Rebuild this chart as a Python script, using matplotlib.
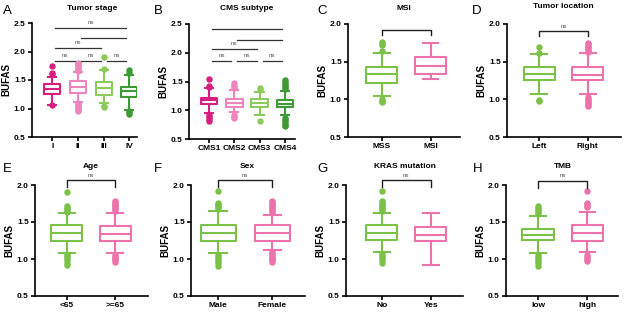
import matplotlib
matplotlib.use("Agg")
import matplotlib.pyplot as plt

plt.rcParams['font.family'] = ['Liberation Sans', 'DejaVu Sans']

W, H = 625, 315

# colours
MAG = '#D61F7E'
LPINK = '#EE85BC'
LGREEN = '#8CCB57'
DGREEN = '#3E9A34'
GREEN = '#7BC047'
PINK = '#EB72AA'

# ---- panel A: tumor stage ----
A_labels = ['I', 'II', 'III', 'IV']
A_q1 = [1.25, 1.27, 1.24, 1.21]
A_med = [1.34, 1.375, 1.355, 1.30]
A_q3 = [1.43, 1.49, 1.465, 1.375]
A_wlo = [1.07, 1.12, 1.09, 0.97]
A_whi = [1.55, 1.64, 1.68, 1.58]
A_fl = [[1.75, 1.63, 1.60, 1.06],
        [1.66, 1.68, 1.70, 1.72, 1.74, 1.76, 1.78, 1.80, 0.96, 0.98, 1.00, 1.02, 1.04, 1.06, 1.08, 1.10],
        [1.91, 1.70, 1.03, 1.05],
        [1.67, 1.62, 0.91, 0.93, 0.95]]

# ---- panel B: CMS subtype ----
B_labels = ['CMS1', 'CMS2', 'CMS3', 'CMS4']
B_q1 = [1.11, 1.06, 1.05, 1.05]
B_med = [1.175, 1.13, 1.12, 1.11]
B_q3 = [1.22, 1.20, 1.20, 1.18]
B_wlo = [0.95, 0.97, 0.91, 0.91]
B_whi = [1.39, 1.355, 1.32, 1.34]
B_fl = [[1.55, 1.43, 1.40, 0.91, 0.88, 0.85, 0.82],
        [1.47, 1.44, 1.41, 1.38, 0.91, 0.89, 0.86],
        [1.38, 1.36, 0.82],
        [1.52, 1.49, 1.46, 1.43, 1.40, 1.37, 0.87, 0.84, 0.81, 0.78, 0.75, 0.73]]

# ---- two-group panels ----
C_labels = ['MSS', 'MSI']
C_q1 = [1.22, 1.335]
C_med = [1.335, 1.445]
C_q3 = [1.43, 1.565]
C_wlo = [1.045, 1.275]
C_whi = [1.62, 1.75]
C_fl = [[1.76, 1.74, 1.72, 1.64, 1.00, 0.98, 0.965], []]

D_labels = ['Left', 'Right']
D_q1 = [1.253, 1.253]
D_med = [1.335, 1.32]
D_q3 = [1.431, 1.431]
D_wlo = [1.076, 1.076]
D_whi = [1.60, 1.62]
D_fl = [[1.70, 1.62, 0.99, 0.98],
        [1.75, 1.73, 1.71, 1.69, 1.67, 1.65, 1.63, 1.03, 1.01, 0.99, 0.97, 0.95, 0.93, 0.91]]

E_labels = ['<65', '>=65']
E_q1 = [1.25, 1.24]
E_med = [1.352, 1.338]
E_q3 = [1.462, 1.44]
E_wlo = [1.087, 1.087]
E_whi = [1.616, 1.625]
E_fl = [[1.91, 1.71, 1.69, 1.67, 1.65, 1.63, 1.06, 1.04, 1.01, 0.98, 0.95, 0.92],
        [1.79, 1.77, 1.75, 1.73, 1.71, 1.69, 1.67, 1.65, 1.06, 1.04, 1.02, 1.00, 0.98, 0.96]]

F_labels = ['Male', 'Female']
F_q1 = [1.25, 1.25]
F_med = [1.352, 1.352]
F_q3 = [1.462, 1.457]
F_wlo = [1.087, 1.127]
F_whi = [1.647, 1.60]
F_fl = [[1.92, 1.76, 1.74, 1.72, 1.70, 1.68, 1.06, 1.03, 1.00, 0.97, 0.94, 0.91],
        [1.79, 1.77, 1.75, 1.73, 1.71, 1.69, 1.67, 1.65, 1.63, 1.10, 1.08, 1.06, 1.04, 1.02, 1.00, 0.98, 0.96]]

G_labels = ['No', 'Yes']
G_q1 = [1.259, 1.241]
G_med = [1.352, 1.325]
G_q3 = [1.457, 1.435]
G_wlo = [1.096, 0.92]
G_whi = [1.625, 1.616]
G_fl = [[1.92, 1.79, 1.77, 1.75, 1.73, 1.71, 1.69, 1.67, 1.65, 1.07, 1.04, 1.01, 0.98, 0.95],
        []]

H_labels = ['low', 'high']
H_q1 = [1.259, 1.241]
H_med = [1.325, 1.352]
H_q3 = [1.404, 1.457]
H_wlo = [1.087, 1.09]
H_whi = [1.58, 1.638]
H_fl = [[1.71, 1.69, 1.67, 1.65, 1.63, 1.61, 1.06, 1.03, 1.00, 0.97, 0.94, 0.91],
        [1.92, 1.76, 1.74, 1.72, 1.70, 1.06, 1.03, 1.00, 0.97]]


def px_axes(fig, left, right, top, bottom):
    return fig.add_axes([left / W, 1 - bottom / H, (right - left) / W, (bottom - top) / H])


def draw_boxes(ax, q1, med, q3, wlo, whi, fl, colors, width):
    for i in range(len(med)):
        st = dict(med=med[i], q1=q1[i], q3=q3[i], whislo=wlo[i], whishi=whi[i], fliers=fl[i])
        c = colors[i]
        ax.bxp([st], positions=[i], widths=width, capwidths=width * 0.5,
               boxprops=dict(color=c, linewidth=1.5),
               medianprops=dict(color=c, linewidth=1.5),
               whiskerprops=dict(color=c, linewidth=1.5),
               capprops=dict(color=c, linewidth=1.5),
               flierprops=dict(marker='o', markerfacecolor=c, markeredgecolor=c, markersize=3.6),
               manage_ticks=False)


def style(ax, labels, ylim, yticks, xlim):
    ax.set_xlim(*xlim)
    ax.set_ylim(*ylim)
    ax.set_yticks(yticks)
    ax.set_yticklabels(['%.1f' % t for t in yticks], fontsize=6, fontweight='bold')
    ax.set_xticks(range(len(labels)))
    ax.set_xticklabels(labels, fontsize=6, fontweight='bold')
    ax.spines['top'].set_visible(False)
    ax.spines['right'].set_visible(False)
    for s in ('left', 'bottom'):
        ax.spines[s].set_linewidth(1.2)
    ax.tick_params(width=1.2, length=3, pad=1.5)
    ax.set_ylabel('BUFAS', fontsize=7, fontweight='bold', labelpad=2)


def line_sig(ax, i, j, y, text=True):
    ax.plot([i + 0.12, j - 0.12], [y, y], color='#333333', lw=0.9, clip_on=False)
    if text:
        ax.text((i + j) / 2, y + 0.05, 'ns', ha='center', va='bottom', fontsize=4.5, color='#555555')


def bracket(ax, y, drop, text=True):
    ax.plot([0, 0, 1, 1], [y - drop, y, y, y - drop], color='#222222', lw=1.0, clip_on=False)
    if text:
        ax.text(0.5, y + 0.03, 'ns', ha='center', va='bottom', fontsize=4.5, color='#555555')


fig = plt.figure(figsize=(W / 100, H / 100), dpi=100)

# A
ax = px_axes(fig, 32, 137, 23, 137)
draw_boxes(ax, A_q1, A_med, A_q3, A_wlo, A_whi, A_fl, [MAG, LPINK, LGREEN, DGREEN], 0.62)
style(ax, A_labels, (0.5, 2.5), [0.5, 1.0, 1.5, 2.0, 2.5], (-0.79, 3.3))
for (i, j) in [(0, 1), (1, 2), (2, 3)]:
    line_sig(ax, i, j, 1.84)
line_sig(ax, 0, 2, 2.06)
line_sig(ax, 1, 3, 2.23, text=False)
line_sig(ax, 0, 3, 2.41)

# B
ax = px_axes(fig, 189, 295, 24, 139)
draw_boxes(ax, B_q1, B_med, B_q3, B_wlo, B_whi, B_fl, [MAG, LPINK, LGREEN, DGREEN], 0.66)
style(ax, B_labels, (0.5, 2.5), [0.5, 1.0, 1.5, 2.0, 2.5], (-0.79, 3.4))
for (i, j) in [(0, 1), (1, 2), (2, 3)]:
    line_sig(ax, i, j, 1.86)
line_sig(ax, 0, 2, 2.06)
line_sig(ax, 1, 3, 2.23, text=False)
line_sig(ax, 0, 3, 2.41, text=False)

two = [
    ('C', C_labels, C_q1, C_med, C_q3, C_wlo, C_whi, C_fl, (348, 460, 24, 137), (-0.69, 1.6), 1.92, 0.07, False),
    ('D', D_labels, D_q1, D_med, D_q3, D_wlo, D_whi, D_fl, (507, 621, 24, 137), (-0.66, 1.68), 1.91, 0.07, True),
    ('E', E_labels, E_q1, E_med, E_q3, E_wlo, E_whi, E_fl, (35, 148, 185, 296), (-0.66, 1.68), 2.07, 0.10, True),
    ('F', F_labels, F_q1, F_med, F_q3, F_wlo, F_whi, F_fl, (191, 305, 185, 296), (-0.5, 1.6), 2.07, 0.10, True),
    ('G', G_labels, G_q1, G_med, G_q3, G_wlo, G_whi, G_fl, (346, 463, 185, 296), (-0.73, 1.66), 2.07, 0.10, True),
    ('H', H_labels, H_q1, H_med, H_q3, H_wlo, H_whi, H_fl, (506, 618, 185, 296), (-0.65, 1.62), 2.06, 0.10, True),
]
for name, labels, q1, med, q3, wlo, whi, fl, box, xlim, by, drop, txt in two:
    ax = px_axes(fig, *box)
    draw_boxes(ax, q1, med, q3, wlo, whi, fl, [GREEN, PINK], 0.64)
    style(ax, labels, (0.5, 2.0), [0.5, 1.0, 1.5, 2.0], xlim)
    bracket(ax, by, drop, txt)

# titles and panel letters
titles = [('Tumor stage', 92, 8), ('CMS subtype', 247, 8), ('MSI', 404, 8), ('Tumor location', 563, 7),
          ('Age', 91, 167), ('Sex', 247, 167), ('KRAS mutation', 405, 167), ('TMB', 563, 167)]
for t, x, y in titles:
    fig.text(x / W, 1 - y / H, t, ha='center', va='center', fontsize=6, fontweight='bold')

letters = [('A', 3, 11), ('B', 154, 11), ('C', 317, 11), ('D', 472, 11),
           ('E', 3, 169), ('F', 154, 169), ('G', 317, 169), ('H', 473, 169)]
for t, x, y in letters:
    fig.text(x / W, 1 - y / H, t, ha='left', va='center', fontsize=9.5)

fig.savefig('out.png', dpi=100)
